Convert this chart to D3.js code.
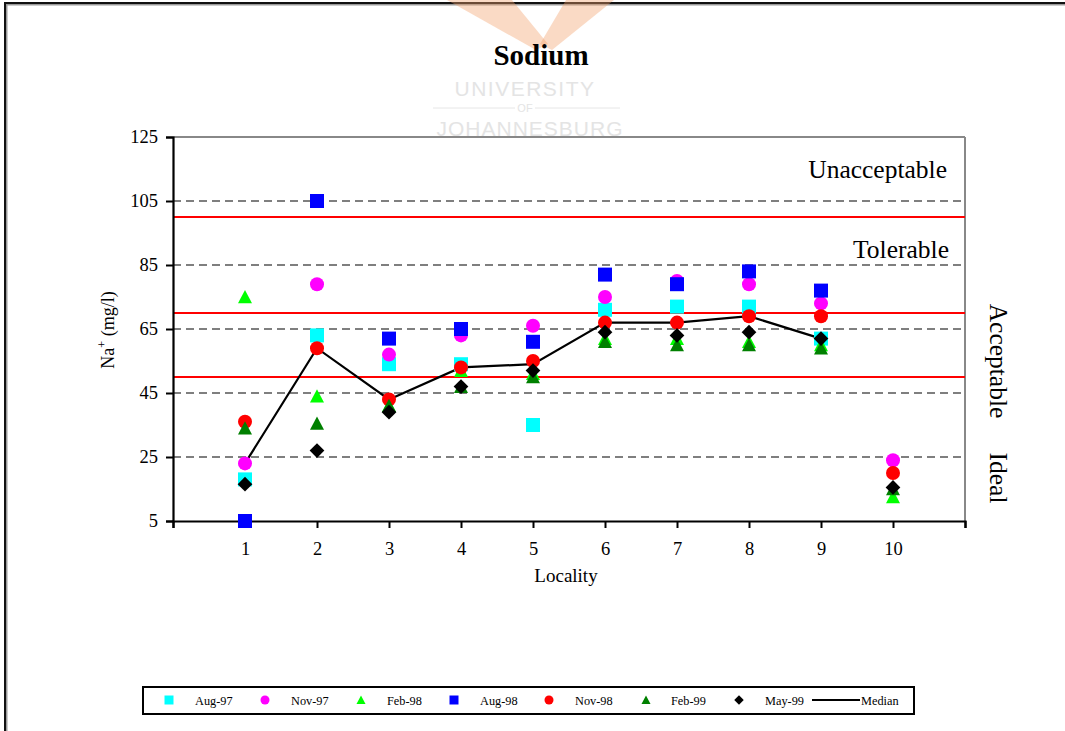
<!DOCTYPE html>
<html><head><meta charset="utf-8">
<script src="https://cdn.jsdelivr.net/npm/d3@7"></script>
<style>
html,body{margin:0;padding:0;background:#fff;}
svg{display:block;}
text{font-family:"Liberation Serif","Times New Roman",serif;}
</style></head>
<body>
<script>
// ---- data ----
const localities = [1,2,3,4,5,6,7,8,9,10];
const yTicks = [5,25,45,65,85,105,125];
const seriesNames = ["Aug-97","Nov-97","Feb-98","Aug-98","Nov-98","Feb-99","May-99"];
const aug97 = [18, 63, 54, 54, 35, 71, 72, 72, 62, null];
const nov97 = [23, 79, 57, 63, 66, 75, 80, 79, 73, 24];
const feb98 = [75, 44, 41, 52, 51, 62, 62, 61, 60, 12.5];
const aug98 = [5, 105, 62, 65, 61, 82, 79, 83, 77, null];
const nov98 = [36, 59, 43, 53, 55, 67, 67, 69, 69, 20];
const feb99 = [34, 35.5, 41, 47, 50, 61, 60, 60, 59, 15];
const may99 = [16.5, 27, 39, 47, 52, 64, 63, 64, 62, 15.5];
const median = [23, 59, 43, 53, 54, 67, 67, 69, 62, null];
const limits = [100, 70, 50];
const zoneLabels = ["Unacceptable","Tolerable","Acceptable","Ideal"];

const seriesValues = [aug97, nov97, feb98, aug98, nov98, feb99, may99];
const seriesColors = ["#00ffff","#ff00ff","#00ff00","#0000ff","#ff0000","#008000","#000000"];
const seriesShapes = ["square","circle","triangle","square","circle","triangle","diamond"];

// ---- layout ----
const W = 1065, H = 731;
const svg = d3.select("body").append("svg").attr("width", W).attr("height", H);

// outer frame
svg.append("rect").attr("x",6).attr("y",4).attr("width",1080).attr("height",740)
  .attr("fill","none").attr("stroke","#999").attr("stroke-width",3);
svg.append("rect").attr("x",5).attr("y",3).attr("width",1080).attr("height",740)
  .attr("fill","none").attr("stroke","#111").attr("stroke-width",2);

// watermark
const wm = svg.append("g");
wm.append("path").attr("d","M447,0 L512,0 L548,44 L536,50 Z").attr("fill","#f3a36e").attr("opacity",0.4);
wm.append("path").attr("d","M566,0 L614,0 L552,50 L540,44 Z").attr("fill","#f3a36e").attr("opacity",0.4);
wm.append("text").attr("x",525).attr("y",96).attr("text-anchor","middle")
  .style("font-family","'Liberation Sans',Arial,sans-serif").style("font-size","21px")
  .style("letter-spacing","1.5px").attr("fill","#e4e4e4").text("UNIVERSITY");
wm.append("line").attr("x1",433).attr("x2",515).attr("y1",108).attr("y2",108).attr("stroke","#e6e6e6");
wm.append("line").attr("x1",535).attr("x2",620).attr("y1",108).attr("y2",108).attr("stroke","#e6e6e6");
wm.append("text").attr("x",525).attr("y",112).attr("text-anchor","middle")
  .style("font-family","'Liberation Sans',Arial,sans-serif").style("font-size","11px")
  .attr("fill","#e4e4e4").text("OF");
wm.append("text").attr("x",530).attr("y",136).attr("text-anchor","middle")
  .style("font-family","'Liberation Sans',Arial,sans-serif").style("font-size","21px")
  .style("letter-spacing","1px").attr("fill","#e4e4e4").text("JOHANNESBURG");

// title
svg.append("text").attr("x",541).attr("y",65).attr("text-anchor","middle")
  .style("font-size","29px").style("font-weight","bold").text("Sodium");

// scales
const x = d3.scaleLinear().domain([0,11]).range([173,965]);
const y = d3.scaleLinear().domain([5,125]).range([521,137]);

// grid dashed lines
svg.append("g").selectAll("line").data(yTicks.filter(v => v>5 && v<125)).join("line")
  .attr("x1",x(0)).attr("x2",x(11)).attr("y1",d=>y(d)).attr("y2",d=>y(d))
  .attr("stroke","#555").attr("stroke-width",1.3).attr("stroke-dasharray","8,5");

// plot border top/right
svg.append("line").attr("x1",x(0)).attr("x2",x(11)).attr("y1",y(125)).attr("y2",y(125))
  .attr("stroke","#888").attr("stroke-width",2);
svg.append("line").attr("x1",x(11)).attr("x2",x(11)).attr("y1",y(125)).attr("y2",y(5))
  .attr("stroke","#888").attr("stroke-width",2);

// limit lines
svg.append("g").selectAll("line").data(limits).join("line")
  .attr("x1",x(0)).attr("x2",x(11)).attr("y1",d=>y(d)).attr("y2",d=>y(d))
  .attr("stroke","#ff0000").attr("stroke-width",2.2);

// axes
const yAxis = d3.axisLeft(y).tickValues(yTicks).tickSize(7).tickPadding(8).tickFormat(d3.format("d"));
const gy = svg.append("g").attr("transform",`translate(${x(0)},0)`).call(yAxis);
gy.select(".domain").attr("stroke","#000").attr("stroke-width",2.2);
gy.selectAll(".tick line").attr("stroke","#000").attr("stroke-width",2);
gy.selectAll(".tick text").style("font-family","'Liberation Serif',serif").style("font-size","18.5px").attr("fill","#000");

const xAxis = d3.axisBottom(x).tickValues(d3.range(0,12)).tickSize(7).tickPadding(14)
  .tickFormat(d => localities.includes(d) ? d : "");
const gx = svg.append("g").attr("transform",`translate(0,${y(5)})`).call(xAxis);
gx.select(".domain").attr("stroke","#000").attr("stroke-width",2.2);
gx.selectAll(".tick line").attr("stroke","#000").attr("stroke-width",2);
gx.selectAll(".tick text").style("font-family","'Liberation Serif',serif").style("font-size","18.5px").attr("fill","#000");

// axis titles
svg.append("text").attr("x",566).attr("y",582).attr("text-anchor","middle")
  .style("font-size","19px").text("Locality");
const yt = svg.append("text").attr("transform","translate(114,330) rotate(-90)").attr("text-anchor","middle")
  .style("font-size","18px");
yt.append("tspan").text("Na");
yt.append("tspan").attr("dy",-8).style("font-size","12px").text("+");
yt.append("tspan").attr("dy",8).text(" (mg/l)");

// zone labels
svg.append("text").attr("x",947).attr("y",178).attr("text-anchor","end").style("font-size","25.5px").text(zoneLabels[0]);
svg.append("text").attr("x",949).attr("y",258).attr("text-anchor","end").style("font-size","25.5px").text(zoneLabels[1]);
svg.append("text").attr("transform","translate(990,361) rotate(90)").attr("text-anchor","middle").style("font-size","25.5px").text(zoneLabels[2]);
svg.append("text").attr("transform","translate(990,478) rotate(90)").attr("text-anchor","middle").style("font-size","25.5px").text(zoneLabels[3]);

// marker paths
function markerPath(shape, s){
  const h = s/2;
  if (shape==="square") return `M${-h},${-h}H${h}V${h}H${-h}Z`;
  if (shape==="circle") return `M${h},0A${h},${h} 0 1,1 ${-h},0A${h},${h} 0 1,1 ${h},0Z`;
  if (shape==="triangle") return `M0,${-h}L${h},${h*0.9}L${-h},${h*0.9}Z`;
  if (shape==="diamond") { const d=h*1.05; return `M0,${-d}L${d},0L0,${d}L${-d},0Z`; }
}

// median line
const line = d3.line().defined(d => d[1]!=null).x(d => x(d[0])).y(d => y(d[1]));
svg.append("path").datum(localities.map((l,i)=>[l, median[i]]))
  .attr("d", line).attr("fill","none").attr("stroke","#000").attr("stroke-width",2.2);

// series markers
seriesValues.forEach((vals, si) => {
  const pts = localities.map((l,i)=>({l, v: vals[i]})).filter(d => d.v!=null);
  svg.append("g").selectAll("path").data(pts).join("path")
    .attr("transform", d => `translate(${x(d.l)},${y(d.v)})`)
    .attr("d", markerPath(seriesShapes[si], 14))
    .attr("fill", seriesColors[si]);
});

// legend
const lg = svg.append("g");
lg.append("rect").attr("x",143).attr("y",687).attr("width",771).attr("height",27)
  .attr("fill","#fff").attr("stroke","#000").attr("stroke-width",2);
const legMarkX = [169,265,361,454,549,646,739];
const legTextX = [195,291,387,480,575,671,765];
seriesNames.forEach((n, si) => {
  lg.append("path").attr("transform",`translate(${legMarkX[si]},700)`)
    .attr("d", markerPath(seriesShapes[si], 9)).attr("fill", seriesColors[si]);
  lg.append("text").attr("x",legTextX[si]).attr("y",704.5).style("font-size","12.3px").text(n);
});
lg.append("line").attr("x1",812).attr("x2",860).attr("y1",700).attr("y2",700).attr("stroke","#000").attr("stroke-width",2);
lg.append("text").attr("x",861).attr("y",704.5).style("font-size","12.3px").text("Median");
</script>
</body></html>
